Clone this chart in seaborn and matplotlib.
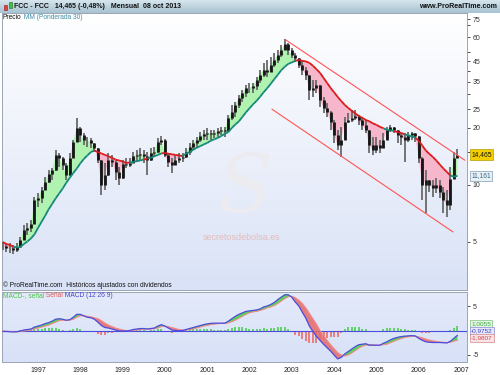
import numpy as np
import pandas as pd
import matplotlib
matplotlib.use("Agg")
import matplotlib.pyplot as plt
import matplotlib.transforms as mtransforms
from matplotlib.collections import LineCollection
from matplotlib.colors import LinearSegmentedColormap
from matplotlib.patches import Rectangle
from matplotlib.ticker import NullLocator, FixedLocator, FixedFormatter
import seaborn as sns

sns.set_style("white")
plt.rcParams['font.family'] = ['Liberation Sans', 'DejaVu Sans']

# ---------------- data (monthly, Mar 1996 .. Dec 2006) ----------------
months = pd.date_range("1996-03-01", "2006-12-01", freq="MS")
t = (months.year + (months.month - 1) / 12.0).to_numpy(dtype=float)

close = np.array([
    4.76, 4.65, 4.65, 4.54, 4.70, 5.12, 5.79, 5.93, 6.22, 8.33,
    8.53, 9.40, 10.4, 11.4, 12.0, 14.4, 13.9, 12.75, 11.25, 13.9, 16.9, 20.0,
    18.35, 17.3, 17.3, 16.65, 15.7, 13.5, 10.0, 11.25, 13.5, 13.2, 11.7, 10.9,
    12.9, 12.75, 13.05, 14.2, 14.4, 14.6, 14.2, 13.5, 14.75, 14.9, 16.9, 17.3,
    14.4, 13.2, 12.75, 13.5, 13.9, 14.05, 14.9, 15.9, 16.65, 17.3, 18.1, 18.6,
    18.8, 18.6, 18.8, 19.25, 19.5, 19.25, 22.6, 24.3, 26.45, 28.8, 30.6, 32.5,
    32.5, 33.3, 35.8, 38.05, 40.5, 39.5, 43.0, 45.7, 48.55, 51.6, 55.5, 51.6,
    48.55, 46.8, 43.0, 40.5, 38.05, 31.7, 32.5, 33.7, 28.1, 25.5, 24.3, 21.5,
    18.35, 16.25, 17.3, 21.5, 22.0, 22.6, 23.1, 22.0, 20.75, 19.5, 16.25, 15.3,
    16.25, 15.7, 17.3, 19.5, 20.25, 19.5, 18.35, 17.9, 17.3, 18.35, 18.8, 18.1,
    13.9, 10.0, 10.6, 10.0, 9.63, 10.0, 9.18, 8.33, 7.84, 10.8, 13.9, 14.465])

high = np.array([
    5.0, 4.94, 4.94, 4.82, 4.94, 5.31, 6.15, 6.30, 6.53, 8.63,
    9.07, 9.75, 11.0, 12.0, 12.3, 15.3, 14.75, 14.05, 13.05, 14.75, 17.3, 22.6,
    20.25, 18.8, 17.9, 17.7, 16.65, 15.7, 13.6, 13.05, 14.75, 14.4, 13.5, 12.45,
    13.5, 13.9, 13.9, 14.9, 15.3, 15.7, 15.3, 14.9, 15.7, 15.9, 17.7, 18.1,
    17.4, 14.75, 13.9, 14.4, 14.75, 14.75, 15.7, 16.65, 17.3, 17.9, 19.0, 19.5,
    20.0, 19.5, 19.5, 20.0, 20.25, 20.25, 23.4, 26.45, 27.4, 29.85, 31.7, 33.7,
    34.55, 34.55, 37.15, 40.5, 44.05, 45.7, 47.4, 49.75, 51.6, 54.85, 59.0, 56.2,
    52.9, 49.75, 46.8, 45.7, 42.0, 38.2, 35.8, 35.8, 33.8, 29.15, 27.1, 24.4,
    22.0, 19.5, 20.25, 22.85, 24.0, 24.9, 24.9, 23.4, 22.85, 22.0, 19.5, 17.9,
    17.9, 17.3, 18.8, 20.25, 20.75, 20.25, 19.5, 18.8, 18.8, 19.0, 19.0, 18.8,
    18.2, 14.0, 12.0, 10.6, 10.6, 10.9, 10.6, 9.75, 9.4, 12.45, 14.9, 15.5])

low = np.array([
    4.54, 4.43, 4.38, 4.32, 4.43, 4.70, 5.1, 5.45, 5.65, 6.2,
    7.65, 8.03, 9.40, 10.2, 10.6, 11.9, 12.45, 12.0, 10.6, 11.2, 13.8, 16.8,
    16.9, 16.25, 15.9, 15.7, 14.9, 13.05, 8.85, 9.40, 11.2, 12.45, 10.6, 10.0,
    10.8, 12.3, 12.45, 13.0, 13.2, 13.5, 13.05, 11.25, 13.4, 14.05, 14.8, 16.25,
    14.05, 12.45, 11.55, 12.7, 13.05, 13.2, 13.9, 14.4, 15.3, 15.7, 16.9, 17.3,
    17.3, 17.3, 17.7, 17.9, 18.35, 17.9, 19.2, 22.0, 22.85, 25.5, 27.4, 29.15,
    30.6, 30.6, 31.7, 34.55, 37.15, 37.15, 39.4, 42.0, 44.05, 47.4, 51.6, 48.55,
    46.8, 44.6, 41.5, 38.05, 35.8, 28.1, 29.15, 30.6, 25.8, 24.0, 22.85, 19.5,
    16.65, 15.3, 14.05, 17.2, 21.25, 21.5, 22.0, 20.75, 19.5, 18.8, 14.75, 14.4,
    14.75, 14.75, 15.6, 17.2, 19.0, 18.8, 16.65, 16.25, 13.2, 16.9, 17.3, 16.9,
    13.05, 8.33, 7.1, 9.18, 8.63, 9.07, 8.53, 7.1, 6.78, 7.38, 10.7, 13.8])

ma30 = np.array([
    5.00, 4.88, 4.82, 4.73, 4.67, 4.70, 4.88, 5.03, 5.22, 5.48,
    5.93, 6.38, 6.86, 7.42, 7.93, 8.48, 9.01, 9.57, 10.25, 10.9, 11.55, 12.2,
    12.98, 13.7, 14.3, 14.9, 15.2, 14.9, 14.65, 14.4, 14.15, 13.9, 13.6, 13.45,
    13.3, 13.05, 13.15, 13.2, 13.35, 13.45, 13.6, 13.8, 13.9, 14.15, 14.4, 14.65,
    14.75, 14.6, 14.5, 14.4, 14.3, 14.2, 14.6, 14.9, 15.3, 15.7, 16.0, 16.35,
    16.65, 17.1, 17.4, 17.7, 18.1, 18.6, 19.0, 20.0, 20.85, 21.65, 22.85, 24.15,
    25.35, 26.6, 27.75, 29.15, 30.8, 32.3, 34.1, 36.05, 38.05, 40.25, 42.0, 43.5,
    44.3, 45.1, 45.7, 45.1, 44.85, 44.05, 42.5, 40.75, 39.0, 36.7, 34.55, 32.5,
    30.8, 29.15, 27.75, 26.45, 25.5, 24.6, 23.85, 23.1, 22.6, 22.0, 21.65, 21.1,
    20.75, 20.25, 19.9, 19.5, 19.4, 19.25, 19.0, 18.8, 18.5, 18.25, 18.0, 17.8,
    17.1, 16.15, 15.2, 14.6, 14.05, 13.45, 12.8, 12.2, 11.7, 11.2, 11.05, 11.161])

macd = np.array([
    -0.2, -0.2, -0.25, -0.3, -0.25, -0.1, 0.1, 0.2, 0.3, 0.7,
    0.9, 1.1, 1.4, 1.6, 1.9, 2.3, 2.4, 2.3, 2.1, 2.2, 2.7, 3.3,
    3.3, 3.0, 2.7, 2.6, 2.3, 1.7, 1.0, 0.6, 0.5, 0.3, 0.1, -0.1,
    -0.1, -0.1, 0.0, 0.2, 0.3, 0.4, 0.4, 0.3, 0.4, 0.5, 0.9, 1.2,
    0.9, 0.5, 0.1, 0.0, -0.05, 0.0, 0.2, 0.4, 0.6, 0.8, 1.0, 1.2,
    1.35, 1.45, 1.5, 1.5, 1.5, 1.5, 1.9, 2.4, 2.9, 3.3, 3.6, 3.9,
    4.0, 4.1, 4.2, 4.4, 4.8, 5.0, 5.3, 5.7, 6.3, 6.8, 7.3, 7.3,
    6.8, 5.8, 5.0, 3.7, 2.5, 0.9, -0.2, -1.2, -2.0, -2.8, -3.5, -4.2,
    -5.0, -5.8, -5.5, -4.8, -4.3, -3.8, -3.3, -2.9, -2.8, -2.7, -3.0, -3.0,
    -3.0, -3.0, -2.6, -2.3, -1.9, -1.6, -1.4, -1.25, -1.15, -1.1, -1.05, -1.1,
    -1.6, -2.0, -2.3, -2.4, -2.45, -2.45, -2.45, -2.5, -2.55, -2.2, -1.6, -0.9752])

signal = np.array([
    -0.1, -0.15, -0.2, -0.2, -0.25, -0.2, -0.1, 0.0, 0.1, 0.3,
    0.5, 0.7, 0.9, 1.1, 1.4, 1.7, 2.0, 2.1, 2.1, 2.1, 2.3, 2.7,
    3.0, 3.0, 2.9, 2.8, 2.6, 2.4, 2.0, 1.5, 1.1, 0.8, 0.5, 0.3,
    0.1, 0.0, -0.05, 0.0, 0.1, 0.2, 0.3, 0.3, 0.3, 0.35, 0.5, 0.8,
    0.9, 0.8, 0.6, 0.4, 0.2, 0.1, 0.1, 0.2, 0.3, 0.5, 0.7, 0.9,
    1.05, 1.2, 1.3, 1.4, 1.45, 1.45, 1.55, 1.8, 2.1, 2.5, 2.9, 3.3,
    3.6, 3.8, 3.9, 4.1, 4.3, 4.6, 4.8, 5.1, 5.5, 6.0, 6.5, 6.9,
    7.0, 6.7, 6.2, 5.5, 4.6, 3.5, 2.4, 1.3, 0.0, -1.0, -2.0, -2.9,
    -3.7, -4.5, -5.0, -5.2, -5.0, -4.6, -4.1, -3.6, -3.2, -3.0, -2.9, -2.9,
    -3.0, -3.0, -2.9, -2.8, -2.5, -2.2, -1.9, -1.65, -1.45, -1.3, -1.2, -1.15,
    -1.3, -1.5, -1.75, -1.95, -2.1, -2.25, -2.35, -2.4, -2.45, -2.4, -2.2, -1.9807])

# trend channel (drawn by hand on the original chart)
upper_t = [2002.86, 2007.09]
upper_p = [58.2, 13.5]
lower_t = [2002.53, 2006.81]
lower_p = [25.1, 5.65]

years = list(range(1997, 2008))
year_labels = [str(y) for y in years]
ptick_vals = [5, 10, 15, 20, 25, 30, 35, 40, 45, 50, 60, 70, 75]
ptick_labels = ['5', '10', '', '20', '25', '', '35', '', '45', '', '60', '', '75']

# ---------------- layout helpers ----------------
W, H = 500.0, 375.0
def rect(x0, y0, x1, y1):
    return [x0 / W, 1 - y1 / H, (x1 - x0) / W, (y1 - y0) / H]

fig = plt.figure(figsize=(5, 3.75), dpi=100)
fig.patch.set_facecolor('white')

def gradient(r, top, bottom, z):
    a = fig.add_axes(r, zorder=z)
    g = np.linspace(0, 1, 256)[:, None]
    cm = LinearSegmentedColormap.from_list('g', [top, bottom])
    a.imshow(g, aspect='auto', cmap=cm, extent=[0, 1, 0, 1], origin='upper')
    a.set_axis_off()
    return a

XL = (1996.149, 2007.142)
spine_c = '#9aa5b6'

# header
axh = gradient(rect(0, 0, 500, 13), '#d6e6ee', '#a7c2d0', 0)
axh.add_patch(Rectangle((4 / W, 0.2), 3 / W, 0.45, transform=axh.transAxes, fc='#e04040', ec='#902020', lw=0.4))
axh.add_patch(Rectangle((8.5 / W, 0.35), 3 / W, 0.5, transform=axh.transAxes, fc='#40c040', ec='#207020', lw=0.4))
axh.text(14 / W, 0.5, 'FCC - FCC   14,465 (-0,48%)   Mensual  08 oct 2013', transform=axh.transAxes,
         ha='left', va='center', fontsize=5.0, fontweight='bold', color='#111')
axh.text(497 / W, 0.5, 'www.ProRealTime.com', transform=axh.transAxes,
         ha='right', va='center', fontsize=5.1, fontweight='bold', color='#111')

# ---------------- price panel ----------------
pr = rect(2, 13, 467, 290)
gradient(pr, '#ffffff', '#d9e2f6', 1)
ax = fig.add_axes(pr, zorder=2)
ax.set_facecolor('none')
ax.set_yscale('log')

open_ = np.r_[close[0], close[:-1]]
ax.fill_between(t, close, ma30, where=close >= ma30, interpolate=True, color='#b0f2b0', lw=0, zorder=1)
ax.fill_between(t, close, ma30, where=close < ma30, interpolate=True, color='#f6b7cc', lw=0, zorder=1)
ax.vlines(t, low, high, color='#6a6a6a', lw=1.3, zorder=3)
ax.vlines(t, np.minimum(open_, close), np.maximum(open_, close), color='#151515', lw=2.0, zorder=4)

pts = np.column_stack([t, ma30])
segs = np.stack([pts[:-1], pts[1:]], axis=1)
seg_cols = np.where(close[1:] >= ma30[1:], '#16887b', '#dc1a1a')
ax.add_collection(LineCollection(segs, colors=seg_cols, lw=1.3, zorder=5))

sns.lineplot(x=upper_t, y=upper_p, ax=ax, color='#ff5555', lw=0.8, zorder=6)
sns.lineplot(x=lower_t, y=lower_p, ax=ax, color='#ff5555', lw=0.8, zorder=6)

ax.set_xlim(*XL)
ax.set_ylim(2.79, 80.7)
ax.yaxis.tick_right()
ax.yaxis.set_major_locator(FixedLocator(ptick_vals))
ax.yaxis.set_major_formatter(FixedFormatter(ptick_labels))
ax.yaxis.set_minor_locator(NullLocator())
ax.set_xticks([])
ax.set_xlabel('')
ax.set_ylabel('')
ax.tick_params(axis='y', which='major', length=2.5, width=0.6, labelsize=5.0, pad=1.5,
               colors='#333', direction='out')
for s in ax.spines.values():
    s.set_color(spine_c)
    s.set_linewidth(0.7)

tp = ax.text(0.002, 0.985, 'Precio', transform=ax.transAxes, fontsize=4.8, color='#111', va='center', ha='left')
ax.annotate(' MM (Ponderada 30)', xy=(1, 0.5), xycoords=tp, va='center', ha='left', fontsize=4.8, color='#3f8ea3')
ax.text(0.002, 0.018, '\u00a9 ProRealTime.com  Hist\u00f3ricos ajustados con dividendos', transform=ax.transAxes,
        fontsize=4.8, color='#111', va='center', ha='left')

tr_p = mtransforms.blended_transform_factory(ax.transAxes, ax.transData)
ax.text(1.009, close[-1], f"{close[-1]:.3f}".replace('.', ','), transform=tr_p, ha='left', va='center',
        fontsize=4.8, color='#111', clip_on=False, zorder=10,
        bbox=dict(boxstyle='square,pad=0.25', fc='#f3cf00', ec='#b89c00', lw=0.5))
ax.text(1.009, ma30[-1], f"{ma30[-1]:.3f}".replace('.', ','), transform=tr_p, ha='left', va='center',
        fontsize=4.8, color='#3b6b84', clip_on=False, zorder=10,
        bbox=dict(boxstyle='square,pad=0.25', fc='#e9f0f6', ec='#7e9db3', lw=0.5))

# watermark
fig.text(245 / W, 1 - 190 / H, 'S', fontsize=58, family='DejaVu Serif', style='italic',
         color='#ecebf0', ha='center', va='center', zorder=1.5)
fig.text(242 / W, 1 - 237 / H, 'secretosdebolsa.es', fontsize=6.5, color='#e4bcbc',
         ha='center', va='center', zorder=1.6)

# ---------------- MACD panel ----------------
mr = rect(2, 292, 467, 362)
gradient(mr, '#e4eafa', '#d8e1f7', 1)
axm = fig.add_axes(mr, zorder=2)
axm.set_facecolor('none')

hist = macd - signal
axm.vlines(t, 0, hist, colors=np.where(hist >= 0, '#4fcf4f', '#ee6a6a'), lw=1.2, zorder=1)
axm.axhline(0, color='#4b4bdc', lw=0.8, zorder=2)
axm.fill_between(t, macd, signal, where=macd >= signal, interpolate=True, color='#55d455', lw=0, zorder=3)
axm.fill_between(t, macd, signal, where=macd < signal, interpolate=True, color='#e46a6a', alpha=0.85, lw=0, zorder=3)
sns.lineplot(x=t, y=signal, ax=axm, color='#f08a8a', lw=0.8, zorder=4)
sns.lineplot(x=t, y=macd, ax=axm, color='#4b4bdc', lw=0.9, zorder=5)

axm.set_xlim(*XL)
axm.set_ylim(-6.43, 7.86)
axm.yaxis.tick_right()
axm.set_yticks([-5, 5])
axm.set_yticklabels(['-5', '5'])
axm.set_xticks(years)
axm.set_xticklabels(year_labels)
axm.set_xlabel('')
axm.set_ylabel('')
axm.tick_params(axis='y', length=2.5, width=0.6, labelsize=5.0, pad=1.5, colors='#333')
axm.tick_params(axis='x', length=2, width=0.6, labelsize=5.0, pad=1.5, colors='#222', direction='out')
for s in axm.spines.values():
    s.set_color(spine_c)
    s.set_linewidth(0.7)

t1 = axm.text(0.002, 0.943, 'MACD-, se\u00f1al', transform=axm.transAxes, fontsize=4.8, color='#49c449',
              va='center', ha='left')
t2 = axm.annotate(' Se\u00f1al', xy=(1, 0.5), xycoords=t1, va='center', ha='left', fontsize=4.8, color='#e05a5a')
axm.annotate(' MACD (12 26 9)', xy=(1, 0.5), xycoords=t2, va='center', ha='left', fontsize=4.8, color='#4646d0')

tr_m = mtransforms.blended_transform_factory(axm.transAxes, axm.transData)
box_specs = [
    (hist[-1], 1.2, '#3caa3c', '#e4f6e4', '#7cc47c'),
    (macd[-1], 3.1, '#4040c8', '#e6e8fa', '#8a8ad6'),
    (signal[-1], 1.6, '#d04848', '#f8e4e8', '#d08a8a'),
]
for val, off, tc, fc, ec in box_specs:
    axm.annotate(f"{val:.4f}".replace('.', ','), xy=(1.009, val), xycoords=tr_m,
                 xytext=(0, off), textcoords='offset points', ha='left', va='center',
                 fontsize=4.6, color=tc, annotation_clip=False, zorder=10,
                 bbox=dict(boxstyle='square,pad=0.2', fc=fc, ec=ec, lw=0.5))

fig.savefig('out.png', dpi=100)
